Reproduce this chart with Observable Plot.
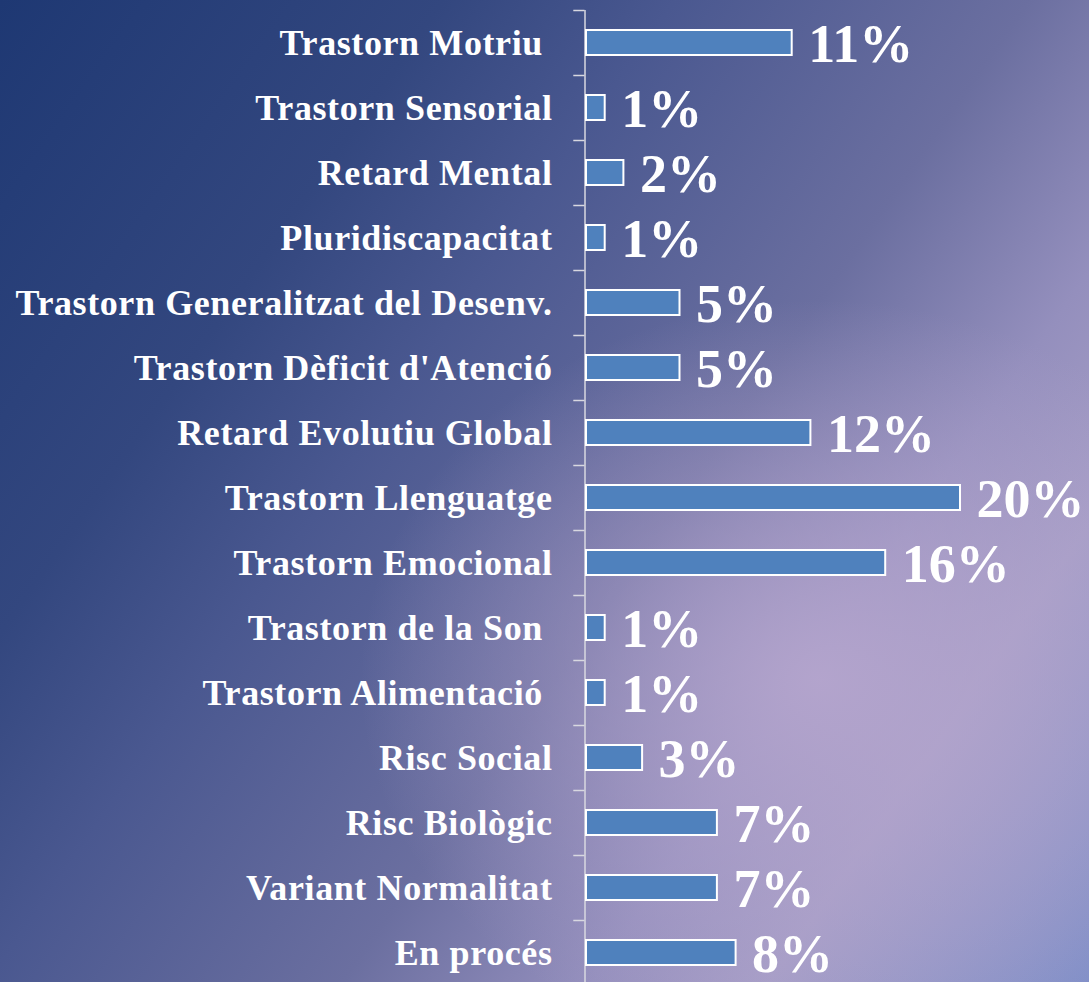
<!DOCTYPE html>
<html><head><meta charset="utf-8">
<script src="https://cdn.jsdelivr.net/npm/d3@7"></script>
<script src="https://cdn.jsdelivr.net/npm/@observablehq/plot@0.6"></script>
<style>
html,body{margin:0;padding:0;width:1089px;height:982px;overflow:hidden;}
body{
  background:
    radial-gradient(ellipse 460px 380px at 820px 680px, rgba(182,166,206,0.9) 0%, rgba(182,166,206,0.5) 45%, rgba(182,166,206,0) 100%),
    linear-gradient(125deg, #1e3873 0%, #33477f 25%, #4a5890 38%, #6b6fa0 58%, #948fbd 72%, #a59dc6 82%, #8290c8 100%);
}
#chart svg{display:block;overflow:visible;background:transparent;}
svg text{white-space:pre;}
g[aria-label="y-axis tick label"] text{letter-spacing:0.6px;}
</style></head><body><div id="chart"></div>
<script>
const categories = [
  "Trastorn Motriu ",
  "Trastorn Sensorial",
  "Retard Mental",
  "Pluridiscapacitat",
  "Trastorn Generalitzat del Desenv.",
  "Trastorn Dèficit d'Atenció",
  "Retard Evolutiu Global",
  "Trastorn Llenguatge",
  "Trastorn Emocional",
  "Trastorn de la Son ",
  "Trastorn Alimentació ",
  "Risc Social",
  "Risc Biològic",
  "Variant Normalitat",
  "En procés"
];
const values = [11, 1, 2, 1, 5, 5, 12, 20, 16, 1, 1, 3, 7, 7, 8];
const valueLabels = values.map(v => v + "%");
const data = categories.map((c, i) => ({category: c, value: values[i], label: valueLabels[i]}));

const font = "'Liberation Serif', 'Times New Roman', serif";
const chart = Plot.plot({
  width: 1089,
  height: 985,
  marginLeft: 586,
  marginRight: 129,
  marginTop: 10,
  marginBottom: 0,
  style: {fontFamily: font, background: "transparent", color: "white", overflow: "visible"},
  x: {domain: [0, 20], axis: null},
  y: {domain: categories, padding: 0, axis: null},
  marks: [
    Plot.ruleX([0], {stroke: "#d8d8e0", strokeWidth: 1.5, dx: -1.5}),
    Plot.ruleY(categories, {y: d => d, x1: -0.6, x2: 0, dx: -1.5, dy: -32.5, stroke: "#d8d8e0", strokeWidth: 1.5}),
    Plot.axisY({tickSize: 0, tickPadding: 34, fontSize: 36, fontWeight: "bold", fill: "white", label: null, fontFamily: font}),
    Plot.barX(data, {x: "value", y: "category", fill: "#4f81bd", stroke: "white", strokeWidth: 2, insetTop: 20, insetBottom: 20}),
    Plot.text(data, {x: "value", y: "category", text: "label", textAnchor: "start", dx: 16, dy: 2, fontSize: 54, fontWeight: "bold", fill: "white", fontFamily: font})
  ]
});
document.getElementById("chart").appendChild(chart);
</script>
</body></html>
